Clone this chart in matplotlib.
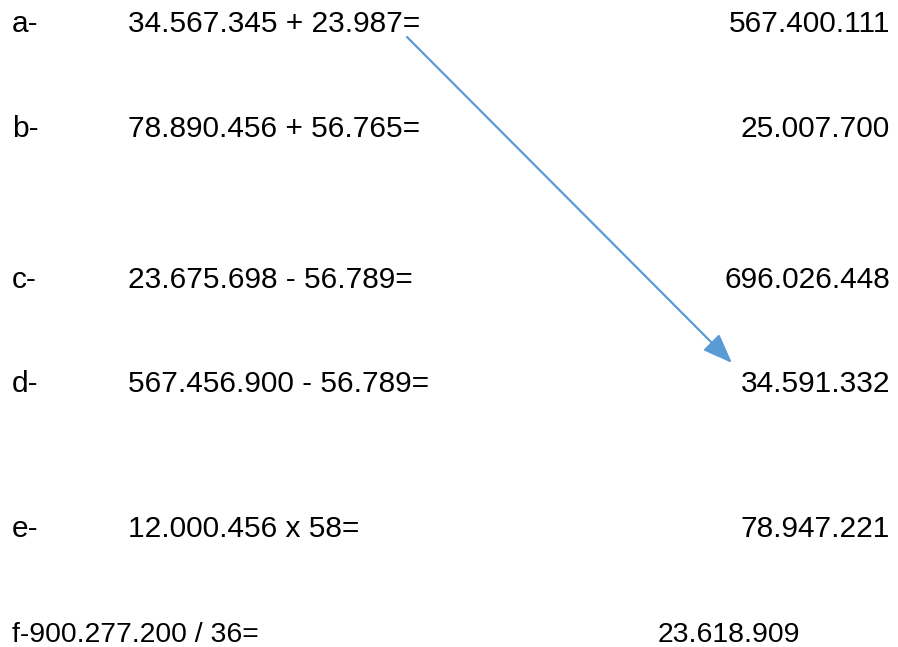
import matplotlib.pyplot as plt

plt.rcParams['font.family'] = ['Liberation Sans', 'DejaVu Sans']

# rows of the exercise sheet
labels = ["a-", "b-", "c-", "d-", "e-", ""]
sums = ["34.567.345 + 23.987=", "78.890.456 + 56.765=", "23.675.698 - 56.789=",
        "567.456.900 - 56.789=", "12.000.456 x 58=", "f-900.277.200 / 36="]
answers = ["567.400.111", "25.007.700", "696.026.448", "34.591.332", "78.947.221", "23.618.909"]
baselines = [32, 137, 288, 392, 537, 642]

# arrow linking a- to its answer (pixel coords)
arrow_from = (407, 37)
arrow_to = (732, 363)

fig = plt.figure(figsize=(8.98, 6.47), dpi=100)
ax = fig.add_axes([0, 0, 1, 1])
ax.set_xlim(0, 898)
ax.set_ylim(647, 0)
ax.axis('off')

fs = 21.5
for i in range(len(sums)):
    y = baselines[i]
    if labels[i]:
        ax.text(12, y, labels[i], fontsize=fs, va='baseline', ha='left')
        ax.text(128, y, sums[i], fontsize=fs, va='baseline', ha='left')
        ax.text(890, y, answers[i], fontsize=fs, va='baseline', ha='right')
    else:
        # last row is squeezed in the original
        ax.text(12, y, sums[i], fontsize=fs * 0.95, va='baseline', ha='left')
        ax.text(800, y, answers[i], fontsize=fs * 0.95, va='baseline', ha='right')

ax.annotate("", xy=arrow_to, xytext=arrow_from,
            arrowprops=dict(arrowstyle='-|>,head_length=1.3,head_width=0.5',
                            color='#5B9BD5', lw=1.6, mutation_scale=14,
                            shrinkA=0, shrinkB=0))

fig.savefig("out.png", dpi=100, facecolor='white')
